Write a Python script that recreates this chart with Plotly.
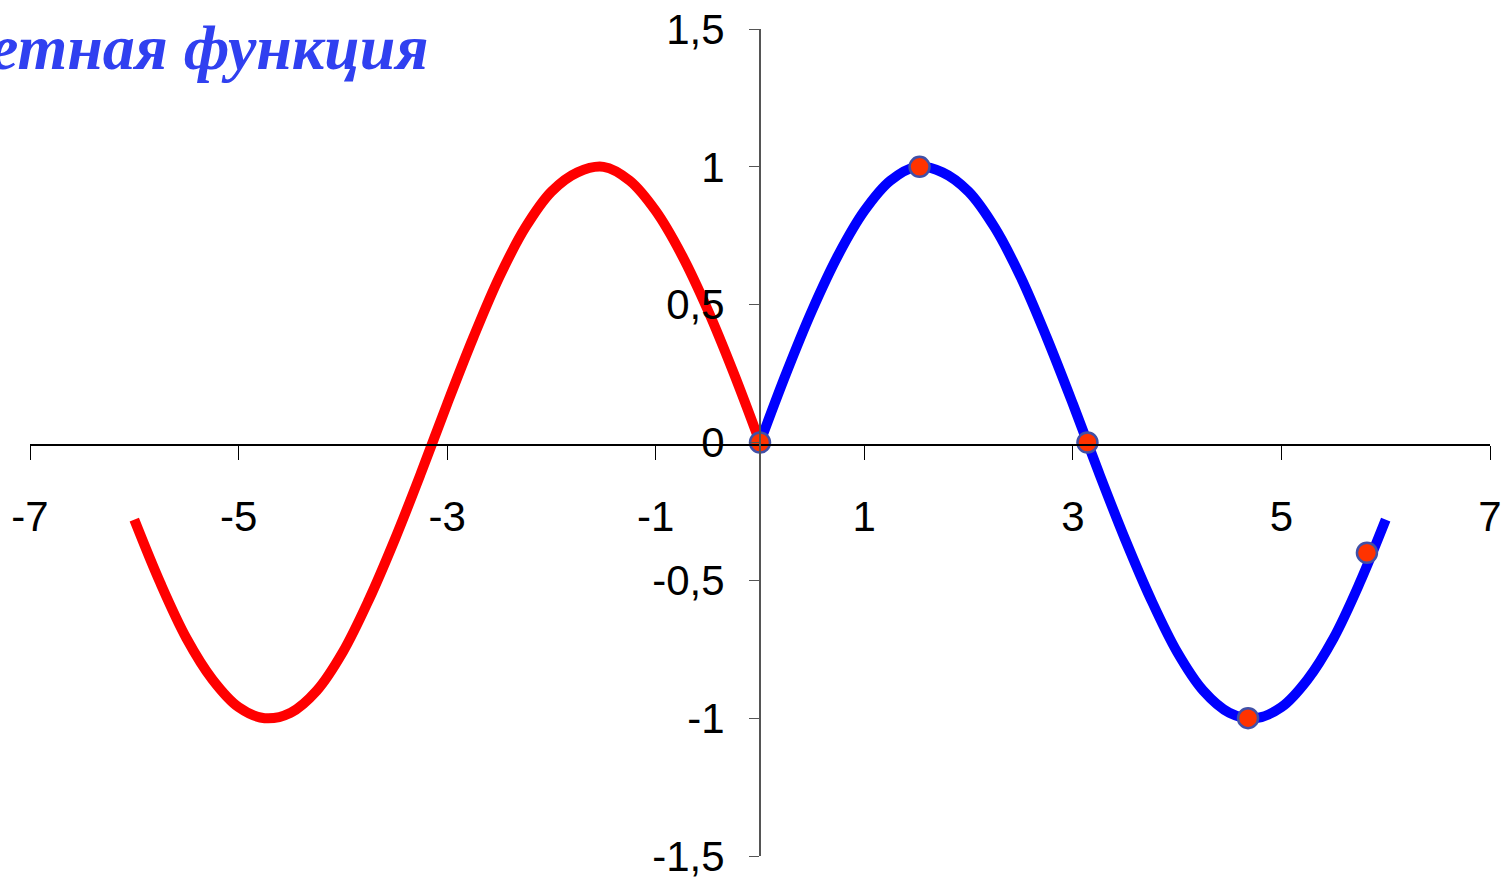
import plotly.graph_objects as go

# red branch (x < 0) and blue branch (x > 0)
x_red = [-6.0, -5.75, -5.5, -5.25, -5.0, -4.75, -4.5, -4.25, -4.0, -3.75, -3.5, -3.25, -3.0,
         -2.75, -2.5, -2.25, -2.0, -1.75, -1.5, -1.25, -1.0, -0.75, -0.5, -0.25, 0.0]
y_red = [-0.28, -0.51, -0.71, -0.86, -0.96, -1.0, -0.98, -0.9, -0.76, -0.57, -0.35, -0.11, 0.14,
         0.38, 0.6, 0.78, 0.91, 0.98, 1.0, 0.95, 0.84, 0.68, 0.48, 0.25, 0.0]
x_blue = [0.0, 0.25, 0.5, 0.75, 1.0, 1.25, 1.5, 1.75, 2.0, 2.25, 2.5, 2.75, 3.0,
          3.25, 3.5, 3.75, 4.0, 4.25, 4.5, 4.75, 5.0, 5.25, 5.5, 5.75, 6.0]
y_blue = [0.0, 0.25, 0.48, 0.68, 0.84, 0.95, 1.0, 0.98, 0.91, 0.78, 0.6, 0.38, 0.14,
          -0.11, -0.35, -0.57, -0.76, -0.9, -0.98, -1.0, -0.96, -0.86, -0.71, -0.51, -0.28]
x_pts = [0.0, 1.53, 3.14, 4.68, 5.82]
y_pts = [0.0, 1.0, 0.0, -1.0, -0.4]

x_ticks = [-7, -5, -3, -1, 1, 3, 5, 7]
x_labels = ["-7", "-5", "-3", "-1", "1", "3", "5", "7"]
y_ticks = [-1.5, -1, -0.5, 0, 0.5, 1, 1.5]
y_labels = ["-1,5", "-1", "-0,5", "0", "0,5", "1", "1,5"]

W, H = 1502, 880

fig = go.Figure()
fig.add_trace(go.Scatter(x=x_red, y=y_red, mode="lines",
                         line=dict(color="#ff0000", width=10, shape="spline")))
fig.add_trace(go.Scatter(x=x_blue, y=y_blue, mode="lines",
                         line=dict(color="#0000ff", width=10, shape="spline")))
fig.add_trace(go.Scatter(x=x_pts, y=y_pts, mode="markers",
                         marker=dict(color="#ff3300", size=20,
                                     line=dict(color="#4050a8", width=2.5))))

fig.update_layout(
    width=W, height=H,
    margin=dict(l=0, r=0, t=0, b=0, autoexpand=False),
    plot_bgcolor="white", paper_bgcolor="white",
    showlegend=False,
    font=dict(family="Liberation Sans, Arial", size=42, color="black"),
    xaxis=dict(
        range=[-7, 7], domain=[30 / W, 1490 / W],
        anchor="free", position=(H - 445) / H, automargin=False,
        tickvals=x_ticks, ticktext=x_labels,
        ticks="outside", ticklen=14, tickcolor="black",
        showline=True, linecolor="black", linewidth=1.5,
        showgrid=False, zeroline=False, ticklabelstandoff=21,
    ),
    yaxis=dict(
        range=[-1.5, 1.5], domain=[(H - 856) / H, (H - 29) / H],
        anchor="free", position=760 / W, automargin=False,
        tickvals=y_ticks, ticktext=y_labels,
        ticks="outside", ticklen=10, tickcolor="#555",
        showline=True, linecolor="#555", linewidth=2,
        showgrid=False, zeroline=False, ticklabelstandoff=16,
    ),
)

fig.add_annotation(
    text="<b><i>Четная функция</i></b>",
    xref="paper", yref="paper", x=430 / W, y=(H - 47) / H,
    xanchor="right", yanchor="middle", showarrow=False,
    font=dict(family="Liberation Serif, Times New Roman", size=64, color="#3040f0"),
)

fig.write_html("out.html", config={"displayModeBar": False},
               post_script="document.body.style.margin='0';")
